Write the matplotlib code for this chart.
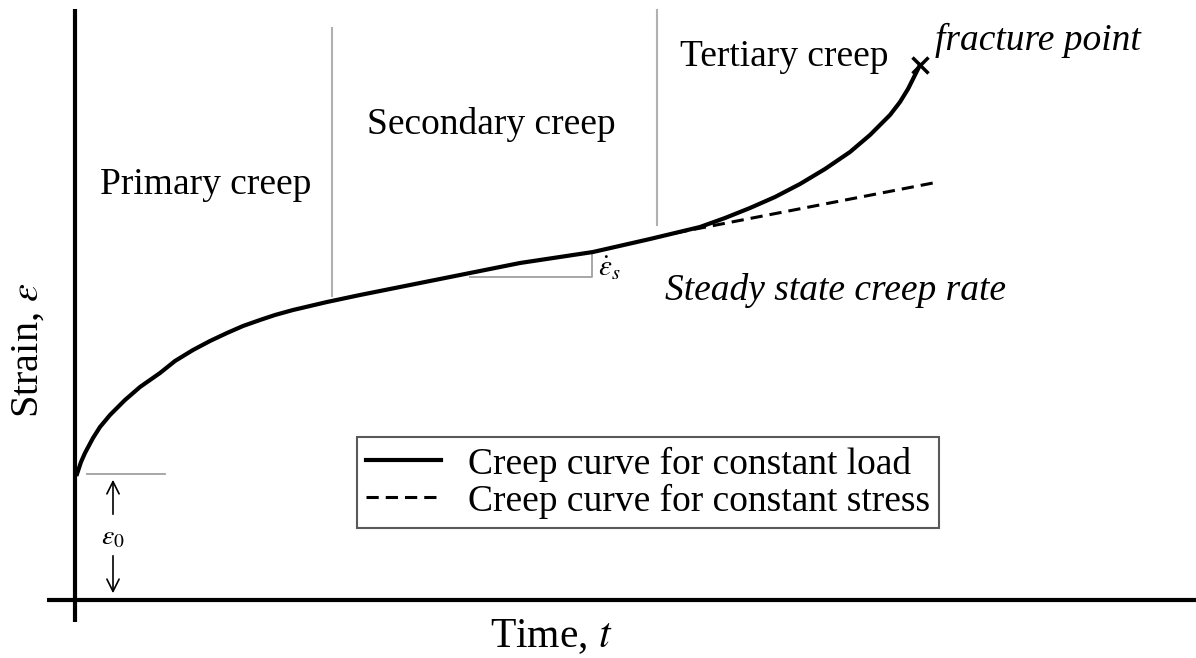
import matplotlib.pyplot as plt

plt.rcParams['mathtext.fontset'] = 'stix'

# Creep curve (time, strain in arbitrary units)
t_load = [2, 6, 10, 18, 25, 35, 50, 65, 85, 100, 118, 135, 152, 168, 185, 200,
          218, 235, 252, 285, 345, 395, 445, 518, 575, 625, 650, 675, 700, 725,
          750, 775, 795, 815, 825, 833, 839, 845]
eps_load = [126, 138, 147, 162, 173, 185, 200, 213, 227, 239, 250, 259, 267, 274,
            280, 285, 290, 294, 298, 305, 317, 327, 337, 348, 361, 373, 382, 392,
            403, 416, 431, 448, 465, 485, 498, 511, 523, 535]

t_stress = [600, 858]
eps_stress = [367, 417]

t_fracture = 845
eps_fracture = 535

eps0 = 126
t_primary_end = 257
t_secondary_end = 582

serif = ['Liberation Serif', 'DejaVu Serif']

fig = plt.figure(figsize=(11.96, 6.58), dpi=100)
ax = fig.add_axes([0, 0, 1, 1])
ax.set_xlim(-75, 1121)
ax.set_ylim(-58, 600)
ax.axis('off')

# axes
ax.plot([0, 0], [-22, 591], color='black', lw=3, solid_capstyle='butt')
ax.plot([-28, 1121], [0, 0], color='black', lw=3, solid_capstyle='butt')

# stage boundaries
ax.plot([t_primary_end, t_primary_end], [304, 572], color='#b0b0b0', lw=1.5)
ax.plot([t_secondary_end, t_secondary_end], [375, 590], color='#b0b0b0', lw=1.5)

# slope triangle
ax.plot([395, 517, 517], [323, 323, 348], color='#a0a0a0', lw=1.3)

# initial strain
ax.plot([12, 90], [eps0, eps0], color='#a0a0a0', lw=1.3)
ax.annotate('', xy=(38, 123), xytext=(38, 83),
            arrowprops=dict(arrowstyle='->', color='black', lw=1.2, mutation_scale=22))
ax.annotate('', xy=(38, 4), xytext=(38, 47),
            arrowprops=dict(arrowstyle='->', color='black', lw=1.2, mutation_scale=22))
ax.text(38, 64, r'$\varepsilon_0$', fontsize=20, ha='center', va='center')

# curves
ax.plot(t_load, eps_load, color='black', lw=3, label='Creep curve for constant load')
ax.plot(t_stress, eps_stress, color='black', lw=2.2, ls=(0, (4, 2.3)),
        label='Creep curve for constant stress')
ax.plot(t_fracture, eps_fracture, marker='x', color='black', ms=12, mew=2.5)

# labels
ax.text(25, 415, 'Primary creep', fontsize=27, family=serif, va='center')
ax.text(292, 475, 'Secondary creep', fontsize=27, family=serif, va='center')
ax.text(605, 543, 'Tertiary creep', fontsize=27, family=serif, va='center')
ax.text(860, 560, 'fracture point', fontsize=27, family=serif, style='italic', va='center')
ax.text(590, 310, 'Steady state creep rate', fontsize=27, family=serif, style='italic',
        va='center')
ax.text(523, 332, r'$\dot{\varepsilon}_s$', fontsize=21, va='center')
ax.text(-47, 250, r'Strain, $\varepsilon$', fontsize=29, family=serif, rotation=90,
        ha='center', va='center')
ax.text(476, -37, r'Time, $t$', fontsize=30, family=serif, ha='center', va='center')

leg = ax.legend(loc='upper left', bbox_to_anchor=(357 / 1196, 1 - 437 / 658),
                prop={'family': serif, 'size': 27}, frameon=True, fancybox=False,
                edgecolor='#303030', handlelength=2.0, handletextpad=0.7,
                borderpad=0.25, labelspacing=0.05, borderaxespad=0)
leg.get_frame().set_linewidth(1.5)

fig.savefig('out.png', dpi=100)
